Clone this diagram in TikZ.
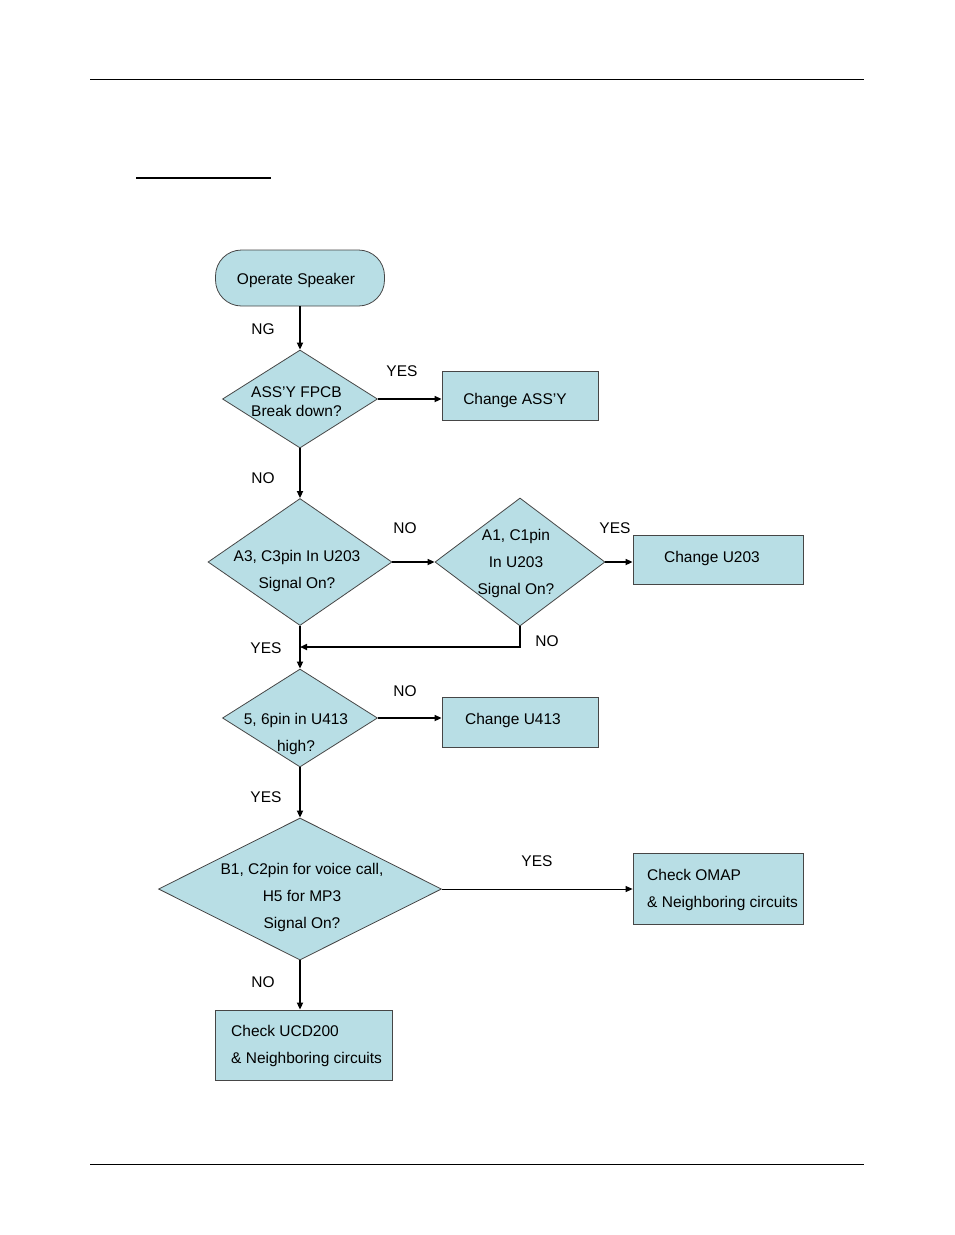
\documentclass[tikz,border=0pt]{standalone}
\usepackage{fontspec}
\setmainfont{Liberation Sans}
\usetikzlibrary{shapes.geometric,arrows.meta}
\definecolor{boxfill}{RGB}{184,222,229}
\definecolor{edge}{RGB}{70,70,70}
\begin{document}
\begin{tikzpicture}[x=1pt,y=-1pt,
  every node/.style={font=\fontsize{15.5}{27}\selectfont},
  procbox/.style={draw=edge,fill=boxfill,line width=0.8pt,rectangle,inner sep=0pt},
  decision/.style={draw=edge,fill=boxfill,line width=0.8pt,diamond,inner sep=0pt},
  term/.style={draw=edge,fill=boxfill,line width=0.8pt,rectangle,rounded corners=26pt,inner sep=0pt},
  flow/.style={line width=1.6pt,-{Triangle[length=7pt,width=6pt]}},
  thinflow/.style={line width=1pt,-{Triangle[length=7pt,width=6pt]}},
  lbl/.style={inner sep=0pt,anchor=center},
  txt/.style={inner sep=0pt,align=left}
]
\useasboundingbox (0,0) rectangle (954,1235);
% page rules
\draw[line width=1pt] (90,79) -- (864,79);
\draw[line width=1.5pt] (136,178) -- (271,178);
\draw[line width=1pt] (90,1164) -- (864,1164);

% shapes
\node[term,minimum width=169pt,minimum height=56pt] (start) at (300,278) {};
\node[txt] (tstart) at (296,280) {Operate Speaker};

\node[decision,minimum width=155pt,minimum height=98pt] (d1) at (300,399) {};
\node[txt,anchor=west,font=\fontsize{15.5}{19}\selectfont] (td1) at (251,402) {ASS'Y FPCB\\Break down?};

\node[procbox,minimum width=156pt,minimum height=49pt] (b1) at (520,395.5) {};
\node[txt] (tb1) at (515,400) {Change ASS'Y};

\node[decision,minimum width=184pt,minimum height=127pt] (d2) at (300,562) {};
\node[txt,align=center] (td2) at (297,571) {A3, C3pin In U203\\Signal On?};

\node[decision,minimum width=170pt,minimum height=128pt] (d3) at (520,562) {};
\node[txt,align=center] (td3) at (516,563) {A1, C1pin\\In U203\\Signal On?};

\node[procbox,minimum width=170pt,minimum height=49pt] (b2) at (718,559.5) {};
\node[txt] (tb2) at (712,558) {Change U203};

\node[decision,minimum width=155pt,minimum height=98pt] (d4) at (300,718) {};
\node[txt,align=center] (td4) at (296,734) {5, 6pin in U413\\high?};

\node[procbox,minimum width=156pt,minimum height=50pt] (b3) at (520,722) {};
\node[txt] (tb3) at (513,720) {Change U413};

\node[decision,minimum width=283pt,minimum height=142pt] (d5) at (300,889) {};
\node[txt,align=center] (td5) at (302,897) {B1, C2pin for voice call,\\H5 for MP3\\Signal On?};

\node[procbox,minimum width=170pt,minimum height=71pt] (b4) at (718,888.5) {};
\node[txt,anchor=west] (tb4) at (647,890) {Check OMAP\\\& Neighboring circuits};

\node[procbox,minimum width=177pt,minimum height=70pt] (b5) at (303.5,1045) {};
\node[txt,anchor=west] (tb5) at (231,1046) {Check UCD200\\\& Neighboring circuits};

% connectors
\draw[flow] (start.south) -- (d1.north);
\draw[flow] (d1.east) -- (b1.west |- d1.east);
\draw[flow] (d1.south) -- (d2.north);
\draw[flow] (d2.east) -- (d3.west);
\draw[flow] (d3.east) -- (b2.west |- d3.east);
\coordinate (c3) at (520,647);
\draw[flow] (d3.south) -- (c3) -- (c3 -| d2.south);
\draw[flow] (d2.south) -- (d4.north);
\draw[flow] (d4.east) -- (b3.west |- d4.east);
\draw[flow] (d4.south) -- (d5.north);
\draw[thinflow] (d5.east) -- (b4.west |- d5.east);
\draw[flow] (d5.south) -- (b5.north -| d5.south);

% labels
\node[lbl] (lng) at (263,329) {NG};
\node[lbl] (ly1) at (402,371) {YES};
\node[lbl] (ln1) at (263,478) {NO};
\node[lbl] (ln2) at (405,528) {NO};
\node[lbl] (ly2) at (615,528) {YES};
\node[lbl] (ln3) at (547,641) {NO};
\node[lbl] (ly3) at (266,648) {YES};
\node[lbl] (ln4) at (405,691) {NO};
\node[lbl] (ly4) at (266,797) {YES};
\node[lbl] (ly5) at (537,861) {YES};
\node[lbl] (ln5) at (263,982) {NO};
\end{tikzpicture}
\end{document}
